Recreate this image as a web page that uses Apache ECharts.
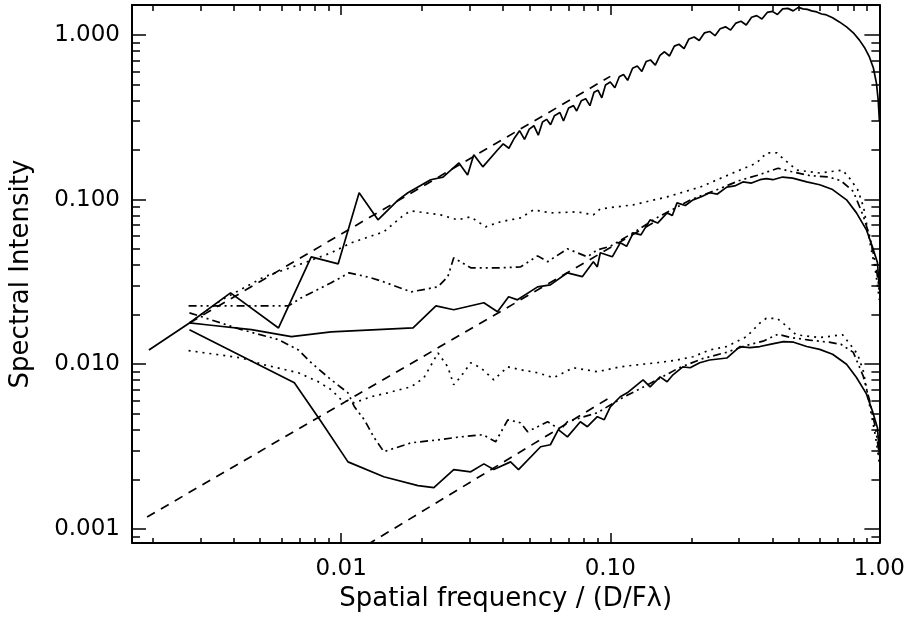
<!DOCTYPE html>
<html lang="en">
<head>
<meta charset="UTF-8">
<title>Spectral Intensity</title>
<script src="https://cdn.jsdelivr.net/npm/echarts@6.0.0/dist/echarts.min.js"></script>
</head>
<body style="margin:0">
<div id="main" style="width: 908px; height: 618px"></div>
<script>
    // tick positions
    let xMajor = [0.01, 0.1, 1];
    let xMinor = [0.002,0.003,0.004,0.005,0.006,0.007,0.008,0.009,
                  0.02,0.03,0.04,0.05,0.06,0.07,0.08,0.09,
                  0.2,0.3,0.4,0.5,0.6,0.7,0.8,0.9];
    let yMajor = [0.001, 0.01, 0.1, 1];
    let yMinor = [0.0009,
                  0.002,0.003,0.004,0.005,0.006,0.007,0.008,0.009,
                  0.02,0.03,0.04,0.05,0.06,0.07,0.08,0.09,
                  0.2,0.3,0.4,0.5,0.6,0.7,0.8,0.9];

    // [frequency, intensity]
    let topSolid = [[0.00193,0.0122],[0.00273,0.0178],[0.00388,0.0271],[0.00585,0.0166],[0.00774,0.0449],
        [0.00975,0.0407],[0.01166,0.110],[0.0137,0.0753],[0.0163,0.0996],[0.0177,0.110],[0.0215,0.132],
        [0.0239,0.137],[0.0274,0.167],[0.0295,0.141],[0.0311,0.187],[0.0336,0.158],[0.0381,0.200],
        [0.040,0.218],[0.042,0.205],[0.044,0.236],[0.046,0.262],[0.048,0.232],[0.050,0.268],[0.052,0.281],
        [0.054,0.246],[0.056,0.296],[0.058,0.307],[0.060,0.285],[0.062,0.323],[0.065,0.338],[0.067,0.300],
        [0.070,0.360],[0.073,0.372],[0.075,0.345],[0.078,0.398],[0.081,0.410],[0.084,0.372],[0.087,0.448],
        [0.090,0.462],[0.093,0.415],[0.096,0.497],[0.100,0.518],[0.104,0.478],[0.108,0.557],[0.112,0.575],
        [0.116,0.530],[0.121,0.628],[0.126,0.648],[0.131,0.600],[0.136,0.690],[0.141,0.705],[0.147,0.655],
        [0.153,0.752],[0.159,0.790],[0.166,0.745],[0.173,0.855],[0.180,0.878],[0.188,0.825],[0.196,0.945],
        [0.205,0.972],[0.214,0.925],[0.224,1.03],[0.234,1.05],[0.245,0.99],[0.256,1.09],[0.268,1.12],
        [0.280,1.07],[0.293,1.18],[0.306,1.21],[0.320,1.15],[0.335,1.28],[0.350,1.31],[0.366,1.25],
        [0.383,1.37],[0.400,1.39],[0.418,1.33],[0.437,1.44],[0.457,1.45],[0.478,1.40],[0.500,1.47],
        [0.520,1.44],[0.540,1.43],[0.560,1.40],[0.585,1.38],[0.610,1.34],[0.630,1.33],[0.670,1.27],
        [0.710,1.20],[0.755,1.12],[0.800,1.03],[0.843,0.93],[0.880,0.84],[0.918,0.735],[0.950,0.63],
        [0.975,0.51],[0.990,0.40],[1.0,0.30]];
    let topDashed = [[0.00273,0.0178],[0.100,0.56]];

    let midSolid = [[0.00273,0.0178],[0.00322,0.0173],[0.00464,0.0162],[0.00653,0.0147],[0.00918,0.0157],
        [0.0185,0.0166],[0.0225,0.0226],[0.0262,0.0214],[0.0339,0.0236],[0.0381,0.0208],[0.0419,0.0257],
        [0.0452,0.0246],[0.0537,0.0295],[0.0599,0.0303],[0.0693,0.0359],[0.0787,0.0340],[0.0865,0.0419],
        [0.0895,0.0390],[0.0918,0.0475],[0.1017,0.0449],[0.1089,0.0546],[0.115,0.0520],[0.1217,0.0628],
        [0.130,0.0610],[0.1406,0.0753],[0.150,0.0720],[0.1626,0.0830],[0.170,0.0800],[0.177,0.0955],
        [0.190,0.0920],[0.203,0.0996],[0.218,0.104],[0.234,0.110],[0.250,0.108],[0.271,0.119],[0.290,0.121],
        [0.311,0.128],[0.335,0.126],[0.360,0.132],[0.380,0.134],[0.402,0.132],[0.437,0.137],[0.476,0.135],
        [0.537,0.128],[0.600,0.123],[0.670,0.115],[0.755,0.0996],[0.822,0.083],[0.895,0.0655],
        [0.942,0.0516],[0.984,0.0413],[1.0,0.0283]];
    let midDotted = [[0.00273,0.0178],[0.0036,0.0246],[0.00519,0.034],[0.0073,0.0413],[0.00918,0.0475],
        [0.0109,0.0546],[0.0144,0.0637],[0.0171,0.0807],[0.0182,0.0854],[0.0234,0.0807],[0.0271,0.0753],
        [0.0303,0.0785],[0.0344,0.0683],[0.0391,0.0733],[0.0464,0.0774],[0.0519,0.0866],[0.0599,0.083],
        [0.0755,0.0842],[0.0865,0.0807],[0.0918,0.0878],[0.1217,0.0929],[0.1626,0.1038],[0.2154,0.119],
        [0.2856,0.145],[0.350,0.167],[0.381,0.192],[0.416,0.192],[0.445,0.174],[0.493,0.151],[0.600,0.145],
        [0.729,0.151],[0.774,0.135],[0.830,0.115],[0.873,0.0903],[0.918,0.0569],[0.966,0.0374],[1.0,0.0246]];
    let midDashDot = [[0.00271,0.0226],[0.00637,0.0226],[0.00711,0.0253],[0.00918,0.0312],[0.0107,0.0359],
        [0.0129,0.0335],[0.0144,0.0316],[0.0182,0.0275],[0.0229,0.0295],[0.0249,0.034],[0.0262,0.0443],
        [0.0303,0.0385],[0.0391,0.0385],[0.0464,0.039],[0.0537,0.0455],[0.0585,0.0419],[0.0693,0.0502],
        [0.0822,0.0449],[0.0895,0.0495],[0.100,0.052],[0.120,0.062],[0.150,0.078],[0.200,0.100],
        [0.250,0.115],[0.300,0.130],[0.350,0.140],[0.420,0.155],[0.470,0.148],[0.550,0.140],[0.650,0.137],
        [0.720,0.130],[0.800,0.112],[0.870,0.080],[0.920,0.060],[0.970,0.040],[1.0,0.028]];
    let midDashed = [[0.0019,0.00118],[0.150,0.075]];

    let lowSolid = [[0.00273,0.0162],[0.0067,0.00771],[0.00843,0.00447],[0.0106,0.00255],[0.0144,0.00207],
        [0.0193,0.00183],[0.0221,0.00178],[0.0262,0.00229],[0.0303,0.00222],[0.0339,0.00248],[0.0369,0.00229],
        [0.0426,0.00255],[0.0456,0.00229],[0.0551,0.00315],[0.0599,0.00324],[0.0641,0.0040],[0.0693,0.00362],
        [0.0774,0.00447],[0.0822,0.00417],[0.0895,0.0048],[0.095,0.0046],[0.100,0.0055],[0.1089,0.00634],
        [0.1156,0.0067],[0.1324,0.00804],[0.1406,0.00729],[0.1531,0.00838],[0.1626,0.00782],[0.171,0.00862],
        [0.186,0.00964],[0.198,0.00951],[0.215,0.0102],[0.234,0.0106],[0.271,0.0109],[0.303,0.0128],
        [0.330,0.0126],[0.360,0.0128],[0.400,0.0133],[0.440,0.0137],[0.480,0.0136],[0.537,0.0128],
        [0.600,0.0123],[0.670,0.0115],[0.755,0.0100],[0.822,0.0083],[0.895,0.0066],[0.942,0.0052],
        [0.984,0.0041],[1.0,0.0028]];
    let lowDotted = [[0.00271,0.0121],[0.00427,0.0109],[0.00519,0.00991],[0.00693,0.00887],[0.00822,0.00782],
        [0.00918,0.0070],[0.0100,0.00608],[0.0112,0.00583],[0.0129,0.00634],[0.0149,0.0067],[0.0182,0.00729],
        [0.0203,0.00827],[0.0229,0.0117],[0.0249,0.00964],[0.0262,0.0075],[0.0278,0.00838],[0.0303,0.0102],
        [0.0330,0.00951],[0.0369,0.00804],[0.0416,0.00964],[0.0464,0.00925],[0.0537,0.00887],[0.0615,0.00827],
        [0.0729,0.00951],[0.0895,0.0090],[0.1089,0.00964],[0.1259,0.00991],[0.149,0.0102],[0.177,0.0106],
        [0.203,0.0111],[0.234,0.0122],[0.271,0.0128],[0.321,0.0147],[0.360,0.0178],[0.380,0.019],
        [0.416,0.019],[0.445,0.0174],[0.490,0.0151],[0.600,0.0145],[0.730,0.0151],[0.770,0.0135],
        [0.830,0.0115],[0.873,0.009],[0.918,0.0057],[0.966,0.0037],[1.0,0.0025]];
    let lowDashDot = [[0.00273,0.0205],[0.00427,0.0162],[0.00585,0.0141],[0.00693,0.0122],[0.00774,0.0102],
        [0.00918,0.00804],[0.0106,0.0067],[0.0112,0.00551],[0.0122,0.00459],[0.0132,0.00362],[0.0144,0.00294],
        [0.0182,0.00333],[0.0229,0.00347],[0.0278,0.00362],[0.0336,0.00373],[0.0375,0.00338],[0.0416,0.00459],
        [0.0464,0.00441],[0.0493,0.00389],[0.0585,0.00447],[0.0653,0.0040],[0.0693,0.00447],[0.0895,0.00507],
        [0.110,0.0062],[0.140,0.0076],[0.180,0.0095],[0.220,0.0108],[0.270,0.0118],[0.320,0.013],
        [0.370,0.0138],[0.420,0.0152],[0.470,0.0145],[0.550,0.014],[0.650,0.0136],[0.720,0.0132],
        [0.800,0.0118],[0.870,0.0085],[0.920,0.006],[0.970,0.004],[1.0,0.0028]];
    let lowDashed = [[0.0125,0.0008],[0.100,0.0063]];

    let font = 'DejaVu Sans';
    let xMin = 0.00167, xMax = 1.0;
    let yMin = 0.00082, yMax = 1.52;

    function xAxisOf(pos, ticks, len, major) {
        return {
            type: 'log', min: xMin, max: xMax, position: pos,
            axisLine: {show: major, lineStyle: {color: '#000', width: 2}},
            axisTick: {show: true, inside: true, length: len, customValues: ticks,
                       lineStyle: {color: '#000', width: 1.5}},
            axisLabel: {show: false},
            splitLine: {show: false}
        };
    }
    function yAxisOf(pos, ticks, len, major) {
        return {
            type: 'log', min: yMin, max: yMax, position: pos,
            axisLine: {show: major, lineStyle: {color: '#000', width: 2}},
            axisTick: {show: true, inside: true, length: len, customValues: ticks,
                       lineStyle: {color: '#000', width: 1.5}},
            axisLabel: {show: false},
            splitLine: {show: false}
        };
    }

    let xBottom = xAxisOf('bottom', xMajor, 10, true);
    xBottom.axisLabel = {show: true, customValues: xMajor, margin: 15, color: '#000',
        fontSize: 23, fontFamily: font, formatter: v => v.toFixed(2)};
    xBottom.name = 'Spatial frequency / (D/Fλ)';
    xBottom.nameLocation = 'middle';
    xBottom.nameGap = 43;
    xBottom.nameTextStyle = {color: '#000', fontSize: 26, fontFamily: font};

    let yLeft = yAxisOf('left', yMajor, 14, true);
    yLeft.axisLabel = {show: true, customValues: yMajor, margin: 12, color: '#000',
        fontSize: 23, fontFamily: font, formatter: v => v.toFixed(3)};
    yLeft.name = 'Spectral Intensity';
    yLeft.nameLocation = 'middle';
    yLeft.nameGap = 98;
    yLeft.nameTextStyle = {color: '#000', fontSize: 26, fontFamily: font};

    function line(data, type) {
        return {
            type: 'line', data: data, symbol: 'none', xAxisIndex: 0, yAxisIndex: 0,
            lineStyle: {color: '#000', width: 1.7, type: type},
            animation: false
        };
    }
    let dashed = [9, 7];
    let dotted = [2, 5];
    let dashDot = [8, 4, 2, 4, 2, 4];

    let myChart = echarts.init(document.getElementById('main'));
    let option = {
        backgroundColor: '#fff',
        animation: false,
        grid: {left: 130, right: 28, top: 5, bottom: 75},
        xAxis: [xBottom, xAxisOf('bottom', xMinor, 5, false),
                xAxisOf('top', xMajor, 10, true), xAxisOf('top', xMinor, 6, false)],
        yAxis: [yLeft, yAxisOf('left', yMinor, 8, false),
                yAxisOf('right', yMajor, 15, true), yAxisOf('right', yMinor, 8, false)],
        series: [
            line(topSolid, 'solid'), line(topDashed, dashed),
            line(midSolid, 'solid'), line(midDotted, dotted), line(midDashDot, dashDot), line(midDashed, dashed),
            line(lowSolid, 'solid'), line(lowDotted, dotted), line(lowDashDot, dashDot), line(lowDashed, dashed)
        ]
    };
    myChart.setOption(option);
</script>
</body>
</html>
